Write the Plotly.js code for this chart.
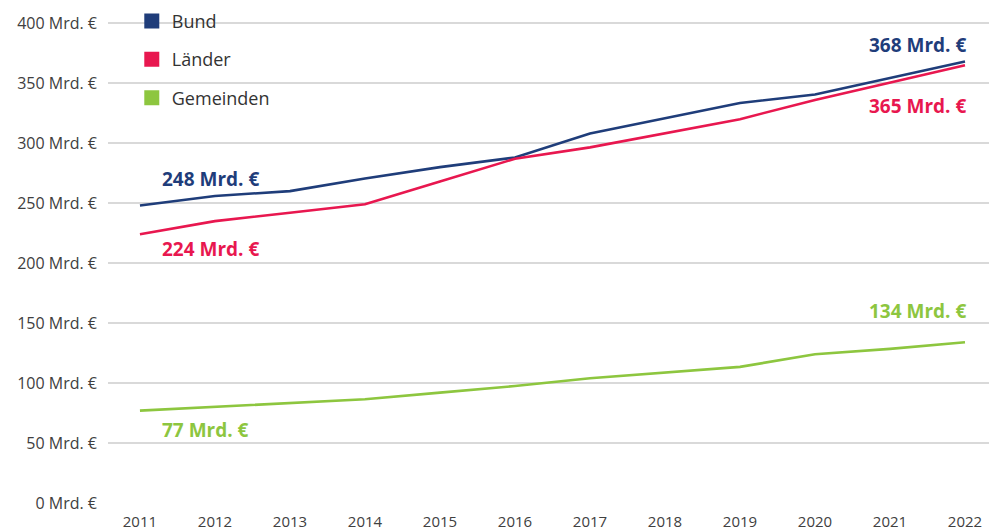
<!DOCTYPE html>
<html>
<head>
<meta charset="utf-8">
<script src="https://cdn.plot.ly/plotly-3.0.1.min.js"></script>
<style>html,body{margin:0;padding:0;background:#fff;}#chart{width:989px;height:530px;}</style>
</head>
<body>
<div id="chart"></div>
<script>
const years = [2011, 2012, 2013, 2014, 2015, 2016, 2017, 2018, 2019, 2020, 2021, 2022];
const seriesNames = ["Bund", "Länder", "Gemeinden"];
const bund      = [248, 256, 260, 270.5, 280, 288, 308, 321, 333.5, 340.5, 354.5, 368];
const laender   = [224, 235, 242, 249, 268, 287, 296.5, 308, 320, 336, 350.5, 365];
const gemeinden = [77, 80, 83, 86.5, 92, 97.5, 104, 108.5, 113.5, 124, 128.5, 134];
const colors = ["#1f3d7a", "#e8174f", "#8dc63f"];
const values = [bund, laender, gemeinden];
const startLabels = ["248 Mrd. €", "224 Mrd. €", "77 Mrd. €"];
const endLabels = ["368 Mrd. €", "365 Mrd. €", "134 Mrd. €"];
const startShift = [27, -15, -19];
const endShift = [17, -41, 31];

const traces = [];
values.forEach((v, i) => {
  traces.push({x: years, y: v, type: 'scatter', mode: 'lines', name: seriesNames[i],
    line: {color: colors[i], width: 2.6}, showlegend: false, hoverinfo: 'skip'});
});
values.forEach((v, i) => {
  traces.push({x: [null], y: [null], type: 'scatter', mode: 'markers', name: seriesNames[i],
    legendgroup: 'g' + i, marker: {symbol: 'square', size: 15, color: colors[i]}, showlegend: true});
});

const annotations = [];
values.forEach((v, i) => {
  annotations.push({x: years[0], y: v[0], xref: 'x', yref: 'y', text: '<b>' + startLabels[i] + '</b>',
    showarrow: false, xanchor: 'left', yanchor: 'middle', xshift: 20, yshift: startShift[i],
    font: {family: 'Open Sans', size: 19, color: colors[i]}});
  annotations.push({x: years[years.length - 1], y: v[v.length - 1], xref: 'x', yref: 'y', text: '<b>' + endLabels[i] + '</b>',
    showarrow: false, xanchor: 'right', yanchor: 'middle', xshift: 3, yshift: endShift[i],
    font: {family: 'Open Sans', size: 19, color: colors[i]}});
});

const layout = {
  width: 989, height: 530,
  margin: {l: 108, r: 0, t: 22, b: 27, autoexpand: false},
  paper_bgcolor: '#fff', plot_bgcolor: '#fff',
  font: {family: 'Open Sans', color: '#404040'},
  hovermode: false,
  xaxis: {range: [2010.574, 2022.32], tickmode: 'array', tickvals: years, ticktext: years.map(String),
    showgrid: false, zeroline: false, showline: false, ticks: '', tickfont: {size: 15, color: '#404040'},
    ticklabelstandoff: 8, automargin: false},
  yaxis: {range: [0, 401], tickmode: 'linear', tick0: 0, dtick: 50, ticksuffix: ' Mrd. €', showgrid: true,
    gridcolor: '#d9d9d9', gridwidth: 1.6, zeroline: false, showline: false, ticks: '',
    tickfont: {size: 16, color: '#404040'}, ticklabelstandoff: 10, automargin: false},
  legend: {x: 0.027, y: 1.04, xanchor: 'left', yanchor: 'top', bgcolor: 'rgba(0,0,0,0)',
    font: {size: 18, color: '#333'}, tracegroupgap: 12},
  annotations: annotations
};
Plotly.newPlot('chart', traces, layout, {staticPlot: true});
</script>
</body>
</html>
